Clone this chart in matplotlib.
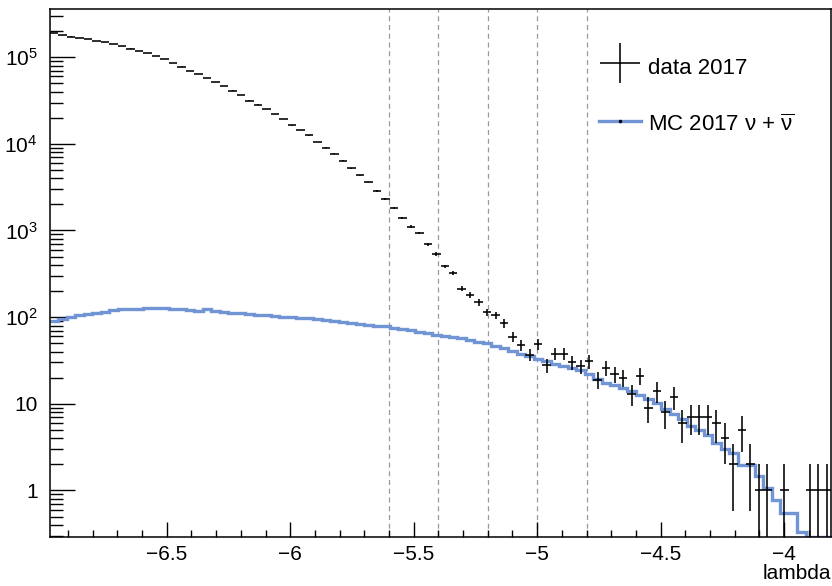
import numpy as np
import matplotlib
matplotlib.use("Agg")
import matplotlib.pyplot as plt
from matplotlib.ticker import LogLocator, FixedLocator, MultipleLocator, NullFormatter
from matplotlib.lines import Line2D

plt.rcParams['font.family'] = ['Liberation Sans', 'DejaVu Sans']
plt.rcParams['mathtext.fontset'] = 'custom'
plt.rcParams['mathtext.rm'] = 'Liberation Sans'
plt.rcParams['mathtext.it'] = 'Liberation Sans:italic'
plt.rcParams['mathtext.bf'] = 'Liberation Sans:bold'

# ---------------- data ----------------
x_min, x_max = -6.973, -3.81
n_bins = 92

data_counts = [
    189000, 181000, 173000, 168000, 161000, 155000, 149000, 142000, 135000, 126000,
    118000, 111000, 103500, 94800, 85300, 78000, 69500, 64100, 57500, 51500,
    46200, 41200, 36700, 31600, 28400, 25100, 22000, 19400, 16300, 14500,
    12500, 10500, 9000, 7670, 6410, 5250, 4340, 3580, 2870, 2300,
    1830, 1390, 1110, 933, 690, 535, 385, 323, 213, 180,
    148, 115, 105, 85, 59, 48, 37, 49, 28, 38,
    38, 30, 27, 31, 19, 26, 22, 20, 13, 21,
    9, 14, 8, 12, 6, 7, 7, 7, 6, 4,
    2, 5, 2, 1, 1, 0, 1, 0, 0, 1,
    1, 1,
]

mc_counts = [
    90, 95, 100, 105, 109, 113, 116, 120, 123, 124,
    125, 126, 129, 126, 125, 124, 121, 118, 123, 119,
    116, 113, 111, 108, 107, 105, 103, 101, 100, 98,
    97, 95, 93, 90, 87, 85, 84, 82, 80, 78,
    75, 73, 71, 68, 65, 63, 61, 59, 57, 54,
    52, 50, 47, 44, 41, 38, 36, 33, 31, 29,
    27.5, 26, 24.3, 21.8, 19.2, 17.6, 16.3, 15.4, 14.0, 12.6,
    11.3, 10.2, 8.7, 7.6, 6.6, 5.6, 5.0, 4.4, 3.5, 3.0,
    2.7, 1.95, 1.95, 1.45, 1.08, 0.78, 0.55, 0.55, 0.33, 0,
    0, 0,
]

cut_values = [-5.6, -5.4, -5.2, -5.0, -4.8]
x_tick_values = [-6.5, -6.0, -5.5, -5.0, -4.5, -4.0]
x_tick_labels = ["\u22126.5", "\u22126", "\u22125.5", "\u22125", "\u22124.5", "\u22124"]
y_tick_values = [1, 10, 100, 1000, 1e4, 1e5]
y_tick_labels = ["1", "10", "$10^{2}$", "$10^{3}$", "$10^{4}$", "$10^{5}$"]
y_min, y_max = 0.29, 3.6e5

label_data = "data 2017"
label_mc = r"MC 2017 $\mathrm{\nu}$ + $\overline{\mathrm{\nu}}$"
x_label = "lambda"

mc_color = "#7094d4"

# ---------------- figure ----------------
fig = plt.figure(figsize=(8.32, 5.86), dpi=100)
ax = fig.add_axes([50 / 832, 1 - 537 / 586, 781 / 832, (537 - 9) / 586])

edges = np.linspace(x_min, x_max, n_bins + 1)
centers = 0.5 * (edges[:-1] + edges[1:])
half_w = 0.5 * (edges[1] - edges[0])

N = np.asarray(data_counts, dtype=float)
mc = np.asarray(mc_counts, dtype=float)

for cv in cut_values:
    ax.axvline(cv, color="#9a9a9a", lw=0.9, ls=(0, (4, 3)), zorder=1)

ax.stairs(np.clip(mc, y_min * 1.01, None), edges, baseline=None,
          color=mc_color, lw=2.4, zorder=2)

m = N > 0
err = np.sqrt(N[m])
lo = np.where(N[m] - err > 0, err, N[m] - 1e-3)
ax.errorbar(centers[m], N[m], xerr=half_w, yerr=[lo, err], fmt='none',
            ecolor='black', elinewidth=1.15, capsize=0, zorder=3)

ax.set_yscale('log')
ax.set_xlim(x_min, x_max)
ax.set_ylim(y_min, y_max)

ax.xaxis.set_major_locator(FixedLocator(x_tick_values))
ax.set_xticklabels(x_tick_labels)
ax.xaxis.set_minor_locator(MultipleLocator(0.1))
ax.yaxis.set_major_locator(FixedLocator(y_tick_values))
ax.set_yticklabels(y_tick_labels)
ax.yaxis.set_minor_locator(LogLocator(base=10, subs=np.arange(2, 10), numticks=20))
ax.yaxis.set_minor_formatter(NullFormatter())

ax.tick_params(axis='x', which='major', direction='in', length=11, width=1.0,
               labelsize=15, pad=6, top=False)
ax.tick_params(axis='x', which='minor', direction='in', length=5, width=1.0, top=False)
ax.tick_params(axis='y', which='major', direction='in', length=18, width=1.0,
               labelsize=15, pad=9, right=False)
ax.tick_params(axis='y', which='minor', direction='in', length=9, width=1.0, right=False)
for s in ax.spines.values():
    s.set_linewidth(1.1)

ax.set_xlabel(x_label, loc='right', fontsize=15, labelpad=0)

data_handle = Line2D([], [], ls='none', marker='+', ms=29, mew=1.15, color='black')
mc_handle = Line2D([], [], color=mc_color, lw=2.4, marker='o', ms=1.5,
                   mfc='black', mec='black')
leg = ax.legend([data_handle, mc_handle], [label_data, label_mc], loc='upper left',
                bbox_to_anchor=(0.703, 0.918), frameon=False, fontsize=16,
                handlelength=1.9, handletextpad=0.32, labelspacing=1.3,
                borderpad=0, borderaxespad=0, handleheight=1.6)

fig.savefig("out.png", dpi=100, facecolor='white')
